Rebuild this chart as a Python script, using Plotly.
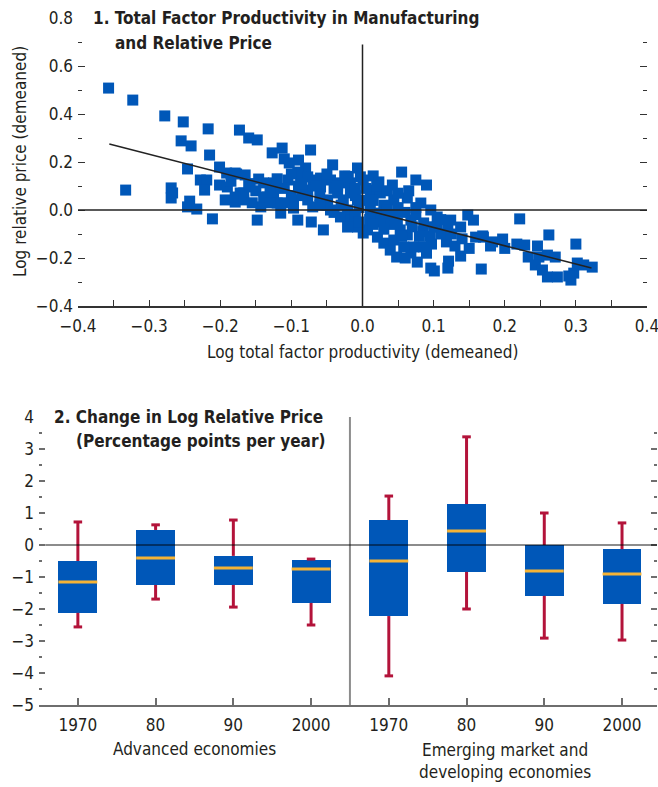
import plotly.graph_objects as go

# ---------------- Panel 1 data ----------------
tfp = [-0.357,-0.323,-0.278,-0.252,-0.217,-0.173,-0.255,-0.241,-0.215,-0.246,-0.201,-0.191,
       -0.177,-0.228,-0.219,-0.222,-0.201,-0.190,-0.333,-0.269,-0.269,-0.243,-0.246,-0.233,
       -0.211,-0.193,-0.179,-0.172,-0.160,-0.148,-0.127,-0.113,-0.073,-0.110,-0.090,-0.103,
       -0.080,-0.042,-0.007,-0.025,-0.179,-0.165,-0.146,-0.125,-0.105,-0.087,-0.069,-0.045,
       -0.017,0.001,-0.167,-0.179,-0.167,-0.139,-0.143,-0.125,-0.120,-0.115,-0.097,-0.097,
       -0.077,-0.077,-0.070,-0.059,-0.049,-0.045,-0.035,-0.027,-0.021,-0.017,-0.007,0.001,
       -0.007,-0.148,-0.091,-0.072,-0.055,-0.031,-0.021,-0.134,-0.158,-0.139,-0.091,-0.077,
       -0.059,-0.031,-0.017,-0.003,0.055,0.015,0.023,0.042,0.075,0.090,0.011,0.025,
       0.044,0.063,0.082,0.096,0.105,0.124,0.148,0.156,0.138,0.159,0.170,0.011,
       0.025,0.035,0.049,0.068,0.086,0.007,0.021,0.030,0.039,0.048,0.063,0.068,
       0.077,0.072,0.086,0.097,0.118,0.096,0.101,0.120,0.121,0.138,0.167,0.120,
       0.105,0.053,0.044,0.058,0.221,0.262,0.300,0.169,0.183,0.197,0.217,0.228,
       0.246,0.233,0.248,0.260,0.271,0.243,0.253,0.260,0.274,0.293,0.297,0.302,
       0.311,0.323,-0.267,-0.110,-0.090,-0.060,-0.040,-0.010,-0.005,0.015,0.030,0.050,
       0.060,0.075,0.085,0.095,0.110,0.040,0.020,-0.130,-0.100,-0.050,0.130,0.150,
       0.180,0.200,0.140,0.290,
       -0.185,-0.160,-0.150,-0.130,-0.120,-0.100,-0.085,-0.065,-0.050,-0.035,
       -0.020,-0.010,-0.060,-0.085,-0.110,-0.155,-0.040,-0.030,-0.010,0.000,
       0.005,0.020,0.035,0.050,0.065,0.010,0.030,0.045,0.055,0.070,
       0.080,0.090,0.100,0.110,0.125,0.060,0.015,-0.005,0.035,0.075]
rel_price = [0.508,0.458,0.392,0.367,0.338,0.333,0.288,0.267,0.229,0.171,0.179,0.154,
       0.150,0.125,0.125,0.083,0.104,0.096,0.083,0.092,0.050,0.037,0.013,0.004,
       -0.037,0.042,0.033,0.071,0.300,0.292,0.238,0.258,0.250,0.213,0.208,0.196,
       0.175,0.188,0.175,0.142,0.154,0.146,0.129,0.113,0.125,0.138,0.125,0.125,
       0.113,0.125,0.071,0.054,0.042,0.054,0.013,0.071,0.029,-0.013,0.042,0.008,
       0.083,0.042,0.013,0.096,0.042,0.000,0.071,0.042,0.000,-0.042,-0.071,-0.096,
       0.042,-0.042,-0.042,-0.050,-0.083,-0.029,-0.071,0.054,0.096,0.113,0.158,0.138,
       0.133,0.113,0.071,0.138,0.158,0.142,0.117,0.104,0.125,0.104,0.083,0.071,
       0.042,0.050,0.029,0.000,-0.029,-0.042,-0.021,-0.042,-0.071,-0.113,-0.113,0.000,
       -0.013,-0.042,-0.054,-0.042,-0.054,-0.083,-0.113,-0.138,-0.167,-0.196,-0.104,-0.179,
       -0.217,-0.154,-0.154,-0.142,-0.133,-0.242,-0.254,-0.242,-0.213,-0.192,-0.246,-0.083,
       -0.071,-0.083,-0.125,-0.154,-0.037,-0.104,-0.142,-0.108,-0.133,-0.121,-0.142,-0.146,
       -0.150,-0.196,-0.196,-0.188,-0.196,-0.229,-0.250,-0.279,-0.279,-0.292,-0.263,-0.221,
       -0.229,-0.238,0.071,0.090,0.100,0.060,0.090,0.090,0.010,0.040,0.020,0.010,
       -0.010,-0.020,-0.090,-0.110,-0.100,-0.060,-0.050,0.030,0.060,0.020,-0.150,-0.160,
       -0.150,-0.160,-0.120,-0.275,
       0.120,0.110,0.080,0.090,0.130,0.150,0.110,0.100,0.150,0.100,
       0.140,0.060,0.020,0.060,0.030,0.030,-0.010,0.020,-0.020,0.040,
       0.090,0.100,0.080,0.070,0.080,-0.040,-0.080,-0.020,-0.110,-0.070,
       -0.110,-0.180,-0.070,-0.040,-0.100,-0.200,-0.060,-0.050,0.000,0.010]
fit_x = [-0.356, 0.322]
fit_y = [0.275, -0.242]

# ---------------- Panel 2 data ----------------
decade_labels = ["1970", "80", "90", "2000", "1970", "80", "90", "2000"]
group_labels = ["Advanced economies", "Emerging market and<br>developing economies"]
q1 = [-2.12, -1.25, -1.25, -1.81, -2.22, -0.84, -1.59, -1.84]
q3 = [-0.50, 0.47, -0.34, -0.47, 0.78, 1.28, 0.00, -0.13]
median = [-1.16, -0.41, -0.72, -0.75, -0.50, 0.44, -0.81, -0.91]
upper = [0.72, 0.63, 0.78, -0.44, 1.53, 3.38, 1.00, 0.69]
lower = [-2.56, -1.69, -1.94, -2.50, -4.09, -2.00, -2.91, -2.97]

BLUE = "#0057B8"
RED = "#B3133A"
GOLD = "#F5B335"
TXT = "#231F20"
FONT = "DejaVu Sans Condensed, Liberation Sans Narrow, Arial Narrow, sans-serif"
FS = 17

OFF = 0
W, H = 658, 787
def px_x(p): return (p - OFF) / W
def px_y(p): return 1 - (p - OFF) / H

fig = go.Figure()

# Panel 1
fig.add_trace(go.Scatter(x=tfp, y=rel_price, mode="markers",
                         marker=dict(symbol="square", size=11, color=BLUE),
                         xaxis="x", yaxis="y", showlegend=False, hoverinfo="x+y"))
fig.add_trace(go.Scatter(x=fit_x, y=fit_y, mode="lines",
                         line=dict(color="#222222", width=1.5),
                         xaxis="x", yaxis="y", showlegend=False))
# right-hand tick axes (no data drawn)
fig.add_trace(go.Scatter(x=[None], y=[None], xaxis="x", yaxis="y3", showlegend=False, hoverinfo="skip"))
fig.add_trace(go.Scatter(x=[None], y=[None], xaxis="x2", yaxis="y4", showlegend=False, hoverinfo="skip"))

# Panel 2
pos = list(range(len(decade_labels)))
fig.add_trace(go.Bar(x=pos, y=[b - a for a, b in zip(q1, q3)], base=q1, width=0.5,
                     marker=dict(color=BLUE, line=dict(width=0)),
                     xaxis="x2", yaxis="y2", showlegend=False))
wx, wy = [], []
for i in pos:
    wx += [i, i, None, i, i, None]
    wy += [q3[i], upper[i], None, q1[i], lower[i], None]
fig.add_trace(go.Scatter(x=wx, y=wy, mode="lines", line=dict(color=RED, width=3),
                         xaxis="x2", yaxis="y2", showlegend=False, hoverinfo="skip"))
cx, cy = [], []
for i in pos:
    cx += [i - 0.055, i + 0.055, None, i - 0.055, i + 0.055, None]
    cy += [upper[i], upper[i], None, lower[i], lower[i], None]
fig.add_trace(go.Scatter(x=cx, y=cy, mode="lines", line=dict(color=RED, width=3),
                         xaxis="x2", yaxis="y2", showlegend=False, hoverinfo="skip"))
mx, my = [], []
for i in pos:
    mx += [i - 0.25, i + 0.25, None]
    my += [median[i], median[i], None]
fig.add_trace(go.Scatter(x=mx, y=my, mode="lines", line=dict(color=GOLD, width=3),
                         xaxis="x2", yaxis="y2", showlegend=False, hoverinfo="skip"))

tickfont = dict(family=FONT, size=FS, color=TXT)
y1 = dict(range=[-0.4, 0.8], dtick=0.2, tick0=0, tickformat=".1f", showgrid=False,
          zeroline=False, automargin=False, showline=False,
          ticks="inside", ticklen=7, tickcolor="#333333", tickwidth=1.2,
          minor=dict(dtick=0.1, ticks="inside", ticklen=4, tickcolor="#333333", tickwidth=1.2),
          tickfont=tickfont, ticklabelstandoff=4, ticklabeloverflow="allow")
y2 = dict(range=[-5, 4], dtick=1, tick0=0, automargin=False, showgrid=False,
          zeroline=False, showline=False,
          ticks="inside", ticklen=6, tickcolor="#6E6E6E", tickwidth=1.5,
          minor=dict(dtick=0.5, ticks="inside", ticklen=3, tickcolor="#6E6E6E", tickwidth=1.5),
          tickfont=tickfont, ticklabelstandoff=4, ticklabeloverflow="allow")
fig.update_layout(
    width=W, height=H, margin=dict(l=0, r=0, t=0, b=0, autoexpand=False),
    paper_bgcolor="white", plot_bgcolor="white",
    font=dict(family=FONT, size=FS, color=TXT),
    xaxis=dict(domain=[px_x(78), px_x(647)], range=[-0.4, 0.4], dtick=0.1, tick0=0,
               tickformat=".1f", showgrid=False, zeroline=False, automargin=False,
               showline=True, linecolor="#333333", linewidth=1.5,
               ticks="inside", ticklen=6, tickcolor="#333333", tickwidth=1.2,
               minor=dict(dtick=0.05, ticks="inside", ticklen=6, tickcolor="#333333", tickwidth=1.2),
               tickfont=tickfont, anchor="y", ticklabelstandoff=4, ticklabeloverflow="allow"),
    yaxis=dict(domain=[px_y(306), px_y(18)], anchor="x", **y1),
    yaxis3=dict(overlaying="y", side="right", anchor="x", showticklabels=False, **y1),
    xaxis2=dict(domain=[px_x(39), px_x(657)], range=[-0.5, 7.45], automargin=False,
                tickvals=pos, ticktext=decade_labels, showgrid=False, zeroline=False,
                showline=True, linecolor="#6E6E6E", linewidth=2,
                ticks="inside", ticklen=7, tickcolor="#6E6E6E", tickwidth=1.5,
                tickfont=tickfont, anchor="y2", ticklabelstandoff=4, ticklabeloverflow="allow"),
    yaxis2=dict(domain=[px_y(705), px_y(417)], anchor="x2", **y2),
    yaxis4=dict(overlaying="y2", side="right", anchor="x2", showticklabels=False, **y2),
    bargap=0,
)

# reference lines
fig.add_shape(type="line", xref="x", yref="y", x0=-0.4, x1=0.4, y0=0, y1=0,
              line=dict(color="#222222", width=1.5), layer="above")
fig.add_shape(type="line", xref="x", yref="y", x0=0, x1=0, y0=-0.4, y1=0.69,
              line=dict(color="#222222", width=1.5), layer="above")
fig.add_shape(type="line", xref="x2", yref="y2", x0=-0.42, x1=7.45, y0=0, y1=0,
              line=dict(color="rgba(0,0,0,0.45)", width=2), layer="above")
fig.add_shape(type="line", xref="x2", yref="y2", x0=3.5, x1=3.5, y0=-5, y1=4,
              line=dict(color="rgba(0,0,0,0.45)", width=2), layer="above")

ann = []
def text(x, y, s, bold=False, xanchor="left", angle=0):
    ann.append(dict(x=px_x(x), y=px_y(y), xref="paper", yref="paper", text=s,
                    showarrow=False, xanchor=xanchor, yanchor="middle", textangle=angle,
                    font=dict(family=FONT, size=FS, color=TXT,
                              weight="bold" if bold else "normal")))
text(91, 18, "1. Total Factor Productivity in Manufacturing", bold=True)
text(113, 43, "and Relative Price", bold=True)
text(20, 162, "Log relative price (demeaned)", xanchor="center", angle=-90)
text(362, 352, "Log total factor productivity (demeaned)", xanchor="center")
text(52, 417, "2. Change in Log Relative Price", bold=True)
text(74, 441, "(Percentage points per year)", bold=True)
for g, (xc, yc) in zip(group_labels, [(194, 749), (505, 761)]):
    ann.append(dict(x=(1.5 if xc < 300 else 5.5), y=px_y(yc), xref="x2", yref="paper",
                    text=g, showarrow=False, xanchor="center", yanchor="middle",
                    font=dict(family=FONT, size=FS, color=TXT)))
fig.update_layout(annotations=ann)

# remove the default page margin so the 658x787 figure fills the window exactly
fig.write_html("out.html", config={"displayModeBar": False},
               post_script="document.body.style.margin='0';document.body.style.overflow='hidden';")
